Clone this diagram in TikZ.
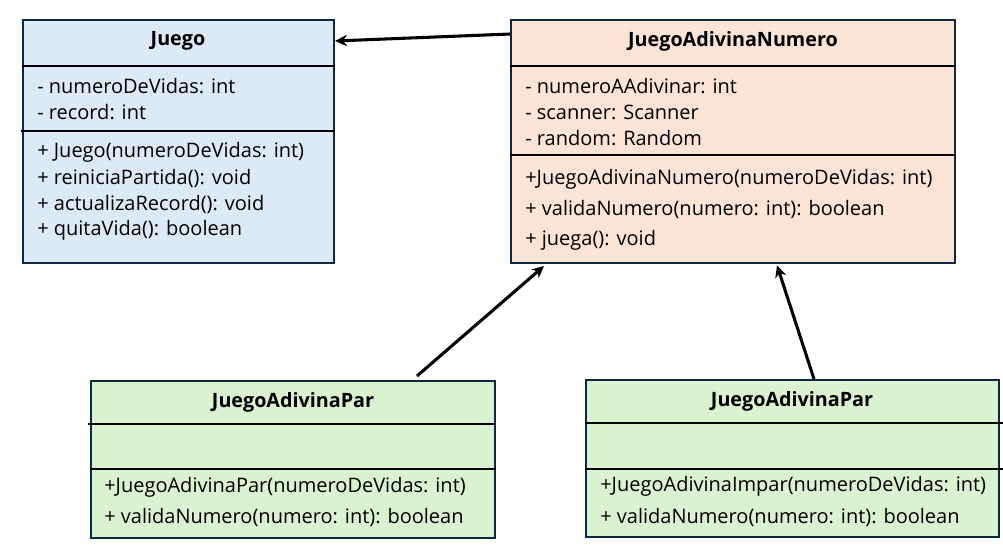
\documentclass[tikz,border=0pt]{standalone}
\usepackage{fontspec}
\setmainfont{Open Sans}
\usetikzlibrary{arrows.meta}

\definecolor{umlborder}{HTML}{0E2841}
\definecolor{juegofill}{HTML}{DCE9F7}
\definecolor{numerofill}{HTML}{FBE3D6}
\definecolor{parfill}{HTML}{DAF2D0}

\tikzset{
  umlbox/.style={draw=umlborder, line width=1.5pt, inner sep=0pt},
  umltitle/.style={inner sep=0pt, font=\fontsize{14.8}{16}\selectfont\bfseries},
  members/.style={anchor=west, inner sep=0pt, font=\fontsize{15}{16}\selectfont},
  sepline/.style={line width=1.8pt},
  thinsep/.style={line width=0.9pt},
  inherit/.style={line width=2.3pt, -{Stealth[length=9pt,width=8.5pt]}}
}

\begin{document}
\begin{tikzpicture}[x=0.75pt,y=-0.75pt]
\useasboundingbox (0,0) rectangle (1003,544);

% classes
\node[umlbox, fill=juegofill, minimum width=233.25pt, minimum height=182.25pt] (juego) at (178.5,141.5) {};
\node[umlbox, fill=numerofill, minimum width=333pt, minimum height=182.25pt] (jan) at (733,141.5) {};
\node[umlbox, fill=parfill, minimum width=303pt, minimum height=117.75pt] (par) at (293,459.5) {};
\node[umlbox, fill=parfill, minimum width=309.75pt, minimum height=117.75pt] (impar) at (792.5,458.5) {};

% separators
\draw[sepline] (juego.west |- 0,66) -- (juego.east |- 0,66);
\draw[thinsep] (21,131) -- (juego.east |- 0,131);
\draw[sepline] (jan.west |- 0,66) -- (jan.east |- 0,66);
\draw[sepline] (jan.west |- 0,155) -- (jan.east |- 0,155);
\draw[sepline] (88,424) -- (par.east |- 0,424);
\draw[thinsep] (par.west |- 0,469) -- (par.east |- 0,469);
\draw[sepline] (impar.west |- 0,423) -- (1003,423);
\draw[sepline] (impar.west |- 0,469) -- (1003,469);

% titles
\node[umltitle] (juegot) at (178,41) {Juego};
\node[umltitle] (jant) at (733,41) {JuegoAdivinaNumero};
\node[umltitle] (part) at (293,402) {JuegoAdivinaPar};
\node[umltitle] (impart) at (792,401) {JuegoAdivinaPar};

% members
\foreach \y/\txt in {86/{- numeroDeVidas: int}, 112/{- record: int},
    152/{+ Juego(numeroDeVidas: int)}, 178/{+ reiniciaPartida(): void},
    204/{+ actualizaRecord(): void}, 230/{+ quitaVida(): boolean}}
  \node[members] (juego-\y) at (37,\y) {\txt};
\foreach \y/\txt in {86/{- numeroAAdivinar: int}, 112/{- scanner: Scanner},
    138/{- random: Random}, 179/{+JuegoAdivinaNumero(numeroDeVidas: int)},
    209/{+ validaNumero(numero: int): boolean}, 240/{+ juega(): void}}
  \node[members] (jan-\y) at (525,\y) {\txt};
\foreach \y/\txt in {487/{+JuegoAdivinaPar(numeroDeVidas: int)},
    517/{+ validaNumero(numero: int): boolean}}
  \node[members] (par-\y) at (104,\y) {\txt};
\foreach \y/\txt in {486/{+JuegoAdivinaImpar(numeroDeVidas: int)},
    517/{+ validaNumero(numero: int): boolean}}
  \node[members] (impar-\y) at (600,\y) {\txt};

% inheritance
\draw[inherit] ([yshift=-11.25pt]jan.north west) -- ([yshift=-16.5pt]juego.north east);
\draw[inherit] ([xshift=245.25pt,yshift=3pt]par.north west) -- ([xshift=25.5pt,yshift=-1.5pt]jan.south west);
\draw[inherit] ([xshift=171.75pt]impar.north west) -- ([xshift=200.25pt,yshift=-1pt]jan.south west);
\end{tikzpicture}
\end{document}
